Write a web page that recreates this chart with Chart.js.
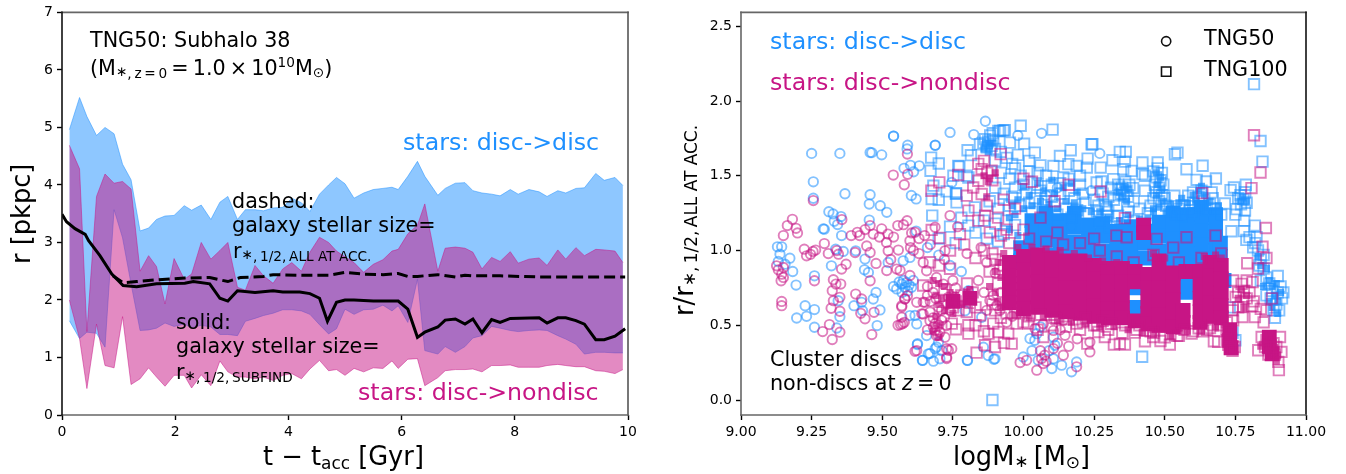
<!DOCTYPE html>
<html>
<head>
<meta charset="utf-8">
<script src="https://cdn.jsdelivr.net/npm/chart.js@4"></script>
<style>
    html, body { margin: 0; padding: 0; background: #fff; overflow: hidden; }
    canvas { position: absolute; top: 0; }
    #sizeChart { left: 0; }
    #scatterChart { left: 673px; }
</style>
</head>
<body>
<canvas id="sizeChart" width="673" height="474"></canvas>
<canvas id="scatterChart" width="673" height="474"></canvas>
<script>
// left panel
const bandT = [.13,.31,.44,.61,.76,.92,1.07,1.22,1.38,1.53,1.67,1.82,1.98,2.16,2.29,2.46,2.63,2.79,2.93,3.1,3.24,3.41,3.56,3.73,3.9,4.06,4.23,4.38,4.55,4.71,4.85,5.0,5.16,5.33,5.5,5.67,5.83,5.94,6.11,6.28,6.41,6.64,6.77,6.95,7.12,7.26,7.42,7.59,7.74,7.92,8.06,8.25,8.43,8.57,8.76,8.9,9.08,9.23,9.43,9.58,9.77,9.91];
const discUpper = [4.96,5.52,5.19,4.86,5.0,4.89,4.36,4.09,3.2,3.25,3.4,3.46,3.47,3.64,3.56,3.65,3.4,3.7,3.8,3.4,3.57,3.57,3.55,3.6,3.61,3.77,3.69,3.54,3.84,4.0,4.13,4.02,3.77,3.86,3.92,3.94,3.96,3.92,4.15,4.41,4.15,3.82,3.94,4.03,4.04,3.9,3.86,3.84,3.81,3.92,3.84,3.92,3.88,3.8,3.9,3.86,3.94,3.95,4.2,4.08,4.13,3.99];
const discLower = [1.64,1.33,1.44,1.42,1.18,3.57,3.08,2.28,1.47,1.48,1.51,1.6,1.54,1.58,1.52,1.56,1.53,1.4,1.4,1.38,1.63,1.68,1.73,1.77,1.83,1.83,1.81,1.75,1.57,1.41,1.5,1.84,1.75,1.83,1.84,1.91,1.81,1.9,1.61,2.36,1.12,1.06,1.19,1.09,1.19,1.34,1.38,1.54,1.51,1.47,1.45,1.47,1.48,1.47,1.38,1.32,1.23,1.06,1.09,1.09,1.08,1.08];
const nondiscUpper = [4.69,4.28,1.45,3.8,4.19,4.03,4.06,3.93,2.5,2.77,2.58,1.93,2.72,2.36,2.45,3.0,2.71,2.86,3.0,2.22,2.17,2.6,2.42,2.29,2.54,2.65,2.5,2.83,3.09,3.0,2.85,2.75,2.65,2.48,2.62,2.7,2.85,2.88,3.15,3.3,3.67,2.5,2.9,2.92,2.9,2.83,2.54,2.74,2.67,2.84,2.64,2.71,2.73,2.6,2.87,2.71,2.91,2.77,2.88,2.87,2.85,2.65];
const nondiscLower = [2.0,1.33,.46,1.58,.86,.82,1.71,.53,.63,.82,.66,.5,.69,.69,.47,.7,.51,.94,.75,.66,.66,.63,.66,.6,.69,.72,.63,.8,.95,.77,.79,.69,.81,.75,.82,.81,.94,.81,.97,.98,.51,.65,.77,.79,.79,.8,.75,.86,.86,.87,.83,.83,.83,.86,.88,.86,.84,.84,.77,.76,.72,.79];
const solidT = [0,.08,.23,.41,.47,.67,.88,1.08,1.32,1.67,2.17,2.32,2.61,2.79,2.93,3.1,3.41,3.73,3.9,4.2,4.38,4.55,4.69,4.85,5.0,5.16,5.5,5.94,6.11,6.28,6.41,6.64,6.77,6.95,7.12,7.26,7.42,7.59,7.74,7.92,8.43,8.57,8.76,8.9,9.08,9.23,9.43,9.58,9.77,9.95];
const solidR = [3.49,3.36,3.24,3.14,3.03,2.77,2.45,2.25,2.23,2.28,2.29,2.32,2.28,2.03,1.98,2.16,2.13,2.16,2.14,2.14,2.11,2.03,1.63,1.96,2.0,2.0,1.98,1.98,1.84,1.35,1.44,1.53,1.65,1.67,1.58,1.67,1.43,1.66,1.61,1.68,1.69,1.6,1.69,1.69,1.64,1.58,1.31,1.31,1.37,1.5];
const dashedT = [.9,1.08,1.32,1.67,2.17,2.61,2.93,3.15,3.56,3.73,4.23,4.73,5.0,5.33,5.67,5.94,6.11,6.28,6.64,6.95,7.12,7.26,7.74,8.43,9.95];
const dashedR = [2.42,2.3,2.32,2.35,2.38,2.39,2.32,2.39,2.41,2.44,2.43,2.43,2.48,2.45,2.44,2.46,2.41,2.41,2.44,2.4,2.43,2.42,2.42,2.4,2.4];
const sizeTicksX = [0,2,4,6,8,10];
const sizeTicksY = [0,1,2,3,4,5,6,7];

// right panel
const massTicks = [9,9.25,9.5,9.75,10,10.25,10.5,10.75,11];
const ratioTicks = [0,.5,1,1.5,2,2.5];
const legendCircle = [[10.505,2.4]];
const legendSquare = [[10.505,2.197]];

const disc50 = [[9.25,1.65],[9.35,1.65],[9.256,1.46],[9.256,1.35],[9.368,1.38],[9.457,1.656],[9.463,1.655],[9.498,1.64],[9.54,1.765],[9.59,1.705],[9.588,1.68],[9.688,1.705],[9.74,1.79],[9.824,1.776],[9.865,1.865],[9.577,1.55],[9.6,1.57],[9.611,1.527],[9.631,1.567],[9.603,1.369],[9.62,1.345],[9.457,1.374],[9.454,1.311],[9.493,1.3],[9.516,1.256],[9.311,1.26],[9.326,1.245],[9.354,1.227],[9.33,1.196],[9.342,1.174],[9.454,1.204],[9.291,1.145],[9.295,1.143],[9.356,1.1],[9.746,1.456],
[9.129,1.025],[9.144,1.025],[9.138,.976],[9.132,.927],[9.156,.909],[9.173,.949],[9.183,.86],[9.195,.769],[9.26,.831],[9.227,.631],[9.197,.549],[9.232,.56],[9.26,.487],[9.26,.605],[9.339,.482],[9.35,.558],[9.344,.665],[9.32,.898],[9.362,.994],[9.335,1.009],[9.4,.631],[9.427,.654],[9.43,.598],[9.468,.676],[9.478,.72],[9.492,.603],[9.482,.498],[9.437,.871],[9.451,.854],[9.406,.998],[9.439,.943],[9.521,.92],[9.574,.931],[9.598,.954],
[9.569,.776],[9.551,.743],[9.586,.787],[9.58,.754],[9.604,.754],[9.598,.565],[9.622,.509],[9.657,.431],[9.624,.371],[9.663,.309],[9.643,.265],[9.681,.26],[9.704,.276],[9.687,.343],[9.699,.387],[9.711,.33],[9.802,.265],[9.858,.354],[9.875,.298],[9.899,.276],[9.793,.598],[9.805,.731],[9.852,.554],[9.54,1.766],[9.687,1.704],[10.064,1.784],
[9.616,.566],[9.625,.377],[9.642,.266],[9.669,.311],[9.692,.355],[9.801,.266],[9.895,.273],[9.999,.288],[10.1,.211],[10.17,.189],[10.188,.255],[10.106,.277],[10.135,.233],[10.052,.266],[10.047,.444],[10.023,.411],[10.04,.4],[10.106,.42],[10.111,.366],[10.03,.33],[10.06,.49],[10.09,.33],
[9.98,1.77],[10.27,1.65],[10.24,1.4],[10.12,1.42],[10.08,1.37],[10.17,1.16],[9.62,1.13],[9.66,1.02],[9.7,.97],[9.74,.9],[9.78,.86],[9.56,.79],[9.575,.8],[9.595,.77],[9.61,.8],[9.54,.76],[9.59,.73],[9.57,.72]];

const nondisc50 = [[9.589,1.645],[9.539,1.505],[9.59,1.51],[9.578,1.44],[9.256,1.334],[9.74,1.234],[9.182,1.209],[9.164,1.167],[9.195,1.149],[9.2,1.118],[9.15,1.1],[9.357,1.207],[9.412,1.122],[9.439,1.14],[9.457,1.167],[9.468,1.11],[9.498,1.145],[9.52,1.11],[9.555,1.167],[9.575,1.173],[9.588,1.2],[9.604,1.118],[9.616,1.122],[9.687,1.156],[9.767,1.16],
[9.126,.898],[9.132,.871],[9.15,.887],[9.144,.842],[9.15,.82],[9.142,.798],[9.144,.66],[9.144,.631],[9.224,1.009],[9.232,.965],[9.255,.994],[9.264,1.003],[9.246,.975],[9.26,.798],[9.295,1.047],[9.309,.98],[9.327,.805],[9.336,.776],[9.323,.731],[9.353,.776],[9.35,.687],[9.327,.665],[9.319,.614],[9.35,.594],[9.313,.505],[9.289,.458],[9.35,.454],[9.323,.405],[9.356,.876],[9.372,.909],[9.345,.976],[9.339,1.0],[9.404,.987],[9.406,.709],[9.427,.676],[9.424,.58],[9.439,.543],[9.471,.587],[9.463,.438],[9.457,.798],[9.478,.914],[9.445,1.031],[9.457,.987],[9.521,.998],[9.557,1.003],[9.551,.876],[9.589,.698],[9.58,.676],[9.569,.631],[9.569,.554],[9.565,.505],[9.578,.52],[9.622,.654],[9.651,.654],[9.645,.576],[9.622,.331],[9.728,.343],[9.728,.287],[9.746,.343],[9.681,.487],[9.692,.431],[9.722,.42],[9.704,.454],[9.669,.531],[9.728,.498],[9.734,.687],[9.692,.82],[9.716,.776],[9.722,.998],[9.645,.92],[9.657,.865],[9.598,1.065],[9.515,1.054],
[9.516,.866],[9.563,.866],[9.598,.833],[9.58,.677],[9.569,.622],[9.572,.511],[9.556,.5],[9.616,.326],[9.734,.333],[9.728,.278],[9.687,.466],[9.988,.251],[10.011,.266],[10.047,.2],[10.064,.278],[10.07,.244],[10.106,.344],[10.141,.3],[10.188,.222],[10.235,.322],[10.235,.388],[10.147,.433],[10.106,.466],[10.041,.478],[10.141,.533],[9.893,.7],[9.881,.666],[9.905,.633],[9.917,.6],[9.87,.6],[9.669,.589],[9.645,.655],[9.64,.577],[9.71,.533],[9.687,.511],[9.698,.433],[10.075,.3],[10.06,.33],[10.08,.26],[10.12,.38],[10.16,.36],[10.19,.41],[10.13,.47],[10.07,.51],
[9.85,1.02],[9.87,.92],[9.9,.85],[9.84,.8],[9.86,.72],[9.92,.72],[9.94,.52],[9.96,.56],[9.8,.98],[9.76,.75],[9.68,.72],[9.7,.62],[9.74,.6],[9.66,.76],[9.72,.94],[9.75,.8],[9.67,1.04],[9.63,.98],[9.6,1.02],[9.53,.94],[9.39,1.1],[9.42,1.1],[9.49,1.09],[9.54,1.09],[9.63,1.08],[9.65,1.1],[9.61,1.0],[9.69,.68],[9.71,.6],[9.73,.64],[9.67,.66],[9.66,.7],[9.72,.55],[9.68,.55],[9.7,.5],[9.66,.47]];

const disc100 = [[9.673,1.622],[9.7,1.582],[9.671,1.534],[9.681,1.434],[9.675,1.345],[9.7,1.34],[9.728,1.396],[9.761,1.382],[9.763,1.322],[9.677,1.234],[9.773,1.562],[9.805,1.489],[9.802,1.671],[9.814,1.638],[9.864,1.745],[9.891,1.785],[9.917,1.8],[9.934,1.805],[9.752,1.5],[9.828,1.289],[9.805,1.167],
[9.99,1.835],[10.103,1.809],[9.929,1.804],[9.911,1.8],[10.241,1.711],[10.167,1.671],[10.129,1.633],[10.227,1.615],[10.04,1.655],[9.952,1.722],[10.002,1.715],[9.769,1.566],[9.799,1.5],[9.761,1.382],[10.106,1.566],[10.159,1.578],[10.188,1.566],[10.224,1.555],[10.141,1.489],
[9.858,1.72],[9.875,1.73],[9.893,1.74],[9.87,1.69],[9.887,1.7],[9.899,1.68],[9.846,1.71],[9.882,1.77],[9.9,1.6],[9.92,1.66],[9.94,1.62],[9.96,1.58],[9.98,1.64],[10.02,1.6],[10.06,1.57],[9.92,1.52],[9.95,1.48],[9.99,1.5],[10.02,1.53],[10.08,1.5],[10.1,1.44],[10.16,1.48],[10.2,1.44],[10.05,1.44],[9.9,1.42],[9.93,1.38],[9.97,1.42],[10.01,1.38],[10.04,1.35],[10.08,1.33],[10.13,1.38],[10.18,1.35],[10.22,1.32],[9.88,1.33],[9.91,1.28],[9.95,1.3],[9.99,1.3],[10.03,1.26],[10.07,1.27],[10.11,1.3],[10.15,1.28],[10.19,1.27],[10.23,1.25],
[9.86,1.2],[9.9,1.18],[9.94,1.2],[9.97,1.17],[9.83,1.12],[9.87,1.08],[9.91,1.06],[9.78,1.22],[9.74,1.16],[9.7,1.08],[9.93,1.11],[9.76,1.05],[9.96,1.36],[10.0,1.44],[10.06,1.4],[10.1,1.36],[10.16,1.4],[10.21,1.38],[10.02,1.32],[10.12,1.24],[10.17,1.22],[10.25,1.34],[10.28,1.38],[10.31,1.42],[10.29,1.3],[10.33,1.3],[10.3,1.26],[10.26,1.26],[9.97,1.55],[10.05,1.52],[10.13,1.45],[10.2,1.5],
[10.244,1.711],[10.273,1.555],[10.315,1.604],[10.341,1.66],[10.362,1.66],[10.359,1.595],[10.382,1.533],[10.421,1.589],[10.421,1.511],[10.475,1.589],[10.536,1.644],[10.545,1.655],[10.577,1.544],[10.634,1.567],[10.613,1.473],[10.646,1.462],[10.681,1.482],[10.666,1.389],[10.6,1.389],[10.583,1.367],[10.534,1.367],[10.745,1.422],[10.733,1.404],[10.787,1.44],[10.839,1.733],[10.846,1.595],[10.713,1.315],[10.754,1.277],[10.784,1.267],[10.781,1.2],[10.819,1.167],[10.736,1.129],[10.789,1.071],[10.825,1.089],[10.813,1.022],
[10.259,1.455],[10.276,1.462],[10.318,1.478],[10.353,1.544],[10.388,1.418],[10.43,1.4],[10.43,1.5],[10.265,1.3],[10.294,1.278],[10.294,1.233],[10.335,1.233],[10.306,1.155],[10.816,2.113],[9.89,0],[10.42,.29],
[10.335,1.44],[10.35,1.42],[10.365,1.4],[10.345,1.38],[10.36,1.46],[10.375,1.44],[10.34,1.41],[10.355,1.37],[10.37,1.36],[10.46,1.53],[10.475,1.55],[10.49,1.52],[10.47,1.49],[10.485,1.47],[10.465,1.44],[10.48,1.42],[10.495,1.44],[10.47,1.39],[10.49,1.37],[10.48,1.33],[10.5,1.35],[10.46,1.35],[10.505,1.3],[10.45,1.3],
[10.3,1.36],[10.32,1.34],[10.39,1.33],[10.41,1.28],[10.44,1.25],[10.27,1.2],[10.37,1.26],[10.39,1.2],[10.33,1.18],[10.52,1.26],[10.55,1.28],[10.57,1.3],[10.6,1.32],[10.62,1.36],[10.64,1.34],[10.66,1.31],[10.68,1.28],[10.62,1.29],[10.6,1.25],[10.65,1.27],[10.7,1.24],[10.63,1.4],[10.59,1.27],[10.54,1.24],[10.56,1.23],[10.67,1.35],
[10.768,1.37],[10.778,1.344],[10.79,1.32],[10.77,1.31],[10.785,1.39],[10.76,1.35],[10.75,1.24],[10.78,1.13],[10.8,1.09],[10.83,1.0],[10.84,.94],[10.85,.88],[10.86,.82],[10.87,.78],[10.88,.73],[10.9,.72],[10.915,.68],[10.895,.64],[10.91,.76],[10.875,.68],[10.885,.6],[10.89,.55],[10.905,.6],[10.86,.7],[10.84,.8],[10.85,.97],[10.82,1.05],[10.835,.9],[10.9,.83],[10.92,.72],[10.74,.45],[10.75,.4],[10.73,.62]];

const nondisc100 = [[9.702,1.456],[9.674,1.4],[9.769,1.505],[9.84,1.467],[9.822,1.422],[9.852,1.378],[9.805,1.267],[9.864,1.234],[9.799,1.367],[9.881,1.122],[9.775,1.11],[9.675,1.138],[9.705,1.085],[9.852,1.545],[9.887,1.534],[9.919,1.645],[9.84,1.58],[9.86,1.6],[9.872,1.52],[9.89,1.47],
[10.816,1.771],[10.839,1.522],[10.807,1.418],[10.858,1.151],[10.846,1.026],[10.633,1.384],[10.273,1.395],[10.359,1.217],[10.329,1.1],[10.577,1.089],[10.471,1.078],[10.365,1.089],[10.0,1.48],[10.03,1.46],[10.11,1.33],[10.16,1.44],[10.06,1.22],[9.97,1.28],[9.93,1.34],
[10.792,.915],[10.742,.8],[10.772,.777],[10.811,.789],[10.751,.689],[10.778,.622],[10.819,.555],[10.775,.555],[10.742,.533],[10.518,.371],[10.43,.393],[10.485,.395],[10.359,.371],[10.341,.377],[10.32,.371],[10.394,.451],[10.459,.422],[10.544,.429],[10.595,.444],[10.636,.46],[10.66,.482],[10.674,.393],[10.689,.389],[10.719,.466],[10.288,.422],[10.265,.455],[10.78,.73],[10.79,.68],[10.81,.63],[10.76,.62],[10.8,.72],
[10.843,.422],[10.908,.422],[10.831,.333],[10.913,.322],[10.904,.2],[10.902,.255],[10.885,.38],[10.86,.4],[10.878,.335],[10.895,.355],[10.855,.355],[10.867,.305],[10.89,.305],[10.731,.344],[10.748,.355],[10.72,.4],[10.725,.37],[10.74,.33],[10.815,.66],[10.84,.61],[10.86,.6],[10.85,.52],[10.83,.88],[10.86,.95],[10.88,.68],
[9.834,.317],[9.899,.355],[9.864,.367],[9.958,.377],[9.931,.382],[9.805,.444],[9.761,.473],[9.746,.511],[9.876,.444],[9.911,.455],[9.946,.444],[10.07,.422],[10.226,.377],[10.188,.511],[9.799,.589],[9.805,.5],[9.645,.766],[9.74,.878],[9.669,.922],[9.846,.567],[9.893,.511],[9.976,.511],[10.017,.511],[10.117,.544],
[9.78,.7],[9.8,.78],[9.82,.72],[9.81,.65],[9.83,.62],[9.76,.66],[9.75,.62],[9.77,.6],[9.72,.74],[9.7,.9],[9.74,1.0],[9.79,1.04],[9.83,.95],[9.86,1.0],[9.88,.86],[9.9,.94],[9.92,1.1],[9.95,1.05],[9.93,.9],[10.0,.52],[10.05,.47],[10.1,.5],[10.15,.49],[10.2,.47],[10.25,.5],[10.3,.47],[10.35,.45],[10.4,.47],[10.45,.46],[10.5,.42],[10.55,.43],[10.6,.46],[10.65,.47],[10.7,.5],[10.22,.55],[10.28,.53],
[10.02,1.08],[10.08,1.06],[10.14,1.04],[10.2,1.05],[10.27,1.0],[10.33,.96],[10.39,.92],[10.46,.97],[10.55,.92],[10.63,.95],[10.7,.98],[10.0,1.14],[10.12,1.12],[10.25,1.08],[10.53,1.02],[10.68,1.1],
[9.9,.6],[9.92,.55],[9.89,.64],[9.91,.78],[9.89,.98],[9.94,.58],[9.97,.58],[10.02,.56],[10.06,.57],[10.11,.55],[10.16,.54],[10.21,.52],[10.26,.5],[10.31,.51],[10.36,.5],[10.41,.5],[10.46,.45],[10.52,.44],[10.57,.47],[10.62,.48],[10.67,.5],[10.72,.52],[9.84,1.2],[9.87,1.3],[9.91,1.22],[9.94,1.14],[10.76,.72],[10.79,.8],[10.74,.6],[9.83,.5],[9.86,.46]];

// dense parts of the clouds, where the open markers merge into a solid mass
const discCore = [[9.99,1.02],[9.99,.93],[10.03,1.2],[10.03,1.12],[10.03,1.03],[10.03,.94],[10.08,1.25],[10.08,1.16],[10.08,1.07],[10.08,.97],[10.13,1.2],[10.13,1.12],[10.13,1.03],[10.13,.94],[10.18,1.25],[10.18,1.16],[10.18,1.06],[10.18,.96],[10.23,1.17],[10.23,1.08],[10.23,.99],[10.23,.9],[10.28,1.18],[10.28,1.1],[10.28,1.0],[10.28,.92],[10.33,1.13],[10.33,1.05],[10.33,.96],[10.38,1.16],[10.38,1.08],[10.38,.98],[10.38,.9],[10.43,1.13],[10.43,1.05],[10.43,.95],[10.48,1.19],[10.48,1.1],[10.48,1.0],[10.48,.92],[10.53,1.25],[10.53,1.17],[10.53,1.08],[10.53,.99],[10.53,.9],[10.58,1.24],[10.58,1.16],[10.58,1.07],[10.58,.98],[10.58,.9],[10.63,1.29],[10.63,1.22],[10.63,1.13],[10.63,1.04],[10.63,.95],[10.63,.87],[10.68,1.24],[10.68,1.18],[10.68,1.09],[10.68,1.0],[10.68,.92],[10.697,1.05],[10.697,.96],[10.58,.8],[10.575,.72],[10.39,.75],[10.39,.62],[10.71,.8]];
const nondiscCore = [[9.95,.92],[9.95,.83],[9.95,.74],[9.95,.65],[10.0,.96],[10.0,.87],[10.0,.78],[10.0,.69],[10.0,.61],[10.05,.97],[10.05,.88],[10.05,.79],[10.05,.7],[10.05,.62],[10.1,.95],[10.1,.86],[10.1,.77],[10.1,.68],[10.1,.6],[10.15,.93],[10.15,.84],[10.15,.75],[10.15,.66],[10.15,.59],[10.2,.93],[10.2,.84],[10.2,.75],[10.2,.66],[10.2,.58],[10.25,.9],[10.25,.81],[10.25,.72],[10.25,.63],[10.25,.56],[10.3,.88],[10.3,.79],[10.3,.7],[10.3,.61],[10.3,.55],[10.35,.88],[10.35,.79],[10.35,.7],[10.35,.61],[10.35,.55],[10.395,.86],[10.395,.79],[10.395,.53],[10.44,.84],[10.44,.75],[10.44,.66],[10.44,.58],[10.44,.51],[10.48,.93],[10.48,.84],[10.48,.75],[10.48,.66],[10.48,.57],[10.48,.5],[10.53,.85],[10.53,.76],[10.53,.67],[10.53,.58],[10.53,.49],[10.575,.86],[10.565,.6],[10.565,.52],[10.625,.86],[10.625,.77],[10.625,.68],[10.625,.59],[10.625,.52],[10.66,.92],[10.66,.83],[10.66,.74],[10.66,.65],[10.66,.56],[10.7,.9],[10.7,.81],[10.7,.72],[10.7,.63],[10.7,.55],[10.73,.47],[10.73,.4],[10.735,.35],[10.87,.42],[10.87,.36],[10.88,.31],[10.425,1.17],[10.425,1.12],[9.75,.66],[9.81,.68]];

// thick but not solid patches, drawn with smaller filled squares
const discClump = [[9.865,1.72],[9.88,1.7],[9.86,1.68],[9.875,1.66],[9.89,1.72],[10.355,1.43],[10.34,1.39],[10.37,1.41],[10.35,1.36],[10.365,1.33],[10.47,1.52],[10.485,1.49],[10.475,1.44],[10.49,1.41],[10.47,1.37],[10.495,1.33],[10.48,1.29],[10.505,1.26],[10.46,1.26],[10.775,1.36],[10.79,1.33],[10.77,1.33],
[9.97,1.24],[10.0,1.28],[10.03,1.3],[10.06,1.33],[10.09,1.31],[10.12,1.28],[10.15,1.33],[10.18,1.32],[10.21,1.28],[10.24,1.26],[9.98,1.34],[10.02,1.37],[10.07,1.4],[10.11,1.38],[10.14,1.42],[10.19,1.39],[10.05,1.45],[10.0,1.43],[10.1,1.47],[10.17,1.45],[9.95,1.14],[9.98,1.1],[10.27,1.26],[10.3,1.22],[10.34,1.2],[10.37,1.24],[10.41,1.21],[10.44,1.22],[10.46,1.28],[9.96,1.3],[9.95,1.22],
[10.52,1.31],[10.55,1.32],[10.58,1.32],[10.61,1.33],[10.64,1.37],[10.62,1.4],[10.6,1.37],[10.56,1.35],[10.66,1.33],[10.69,1.3],[10.63,1.43],
[10.86,.88],[10.87,.8],[10.88,.76],[10.89,.7],[10.9,.66],[10.91,.72],[10.87,.66],[10.88,.62],[10.9,.58],[10.85,.76],[10.84,.9],[10.83,.96],[10.895,.78]];
const nondiscClump = [[9.69,.7],[9.7,.64],[9.71,.68],[9.69,.56],[9.7,.5],[9.68,.46],[9.7,.42],[9.72,.76],[9.74,.72],[9.72,.6],[9.7,.78],[9.68,.8],[9.75,.58],[9.78,.64],[9.8,.72],[9.81,.74],[9.82,.66],[9.74,.66],[9.76,.7],
[9.88,.76],[9.9,.72],[9.91,.66],[9.9,.86],[9.92,.82],[9.91,.92],[9.93,.98],[9.92,.62],[9.88,1.48],[9.86,1.5],[9.875,1.46],[9.9,1.52],[9.87,1.36],
[9.97,.57],[10.02,.55],[10.07,.55],[10.12,.53],[10.17,.52],[10.22,.51],[10.27,.49],[10.32,.49],[10.37,.47],[10.42,.45],[10.46,.44],[10.52,.43],[10.55,.46],[10.58,.46],[10.63,.46],[10.68,.49],
[9.98,1.02],[10.03,1.02],[10.08,1.01],[10.13,1.0],[10.18,.98],[10.23,.95],[10.28,.93],[10.33,.92],[10.46,.98],[10.5,.95],[10.64,.96],[10.68,.97],[10.7,.95],
[10.77,.74],[10.79,.7],[10.76,.68],[10.78,.62],[10.86,.38],[10.88,.4],[10.84,.36],[10.89,.35],[10.86,.33],[10.9,.3],[10.895,.26],[10.74,.41],[10.745,.37]];

const fontName = '"DejaVu Sans"';
const discColor = '#1E90FF';
const nondiscColor = '#C71585';
const discFill = 'rgba(30,144,255,0.5)';
const nondiscFill = 'rgba(199,21,133,0.5)';
const discStroke = 'rgba(30,144,255,0.55)';
const nondiscStroke = 'rgba(199,21,133,0.55)';

function toPoints(xs, ys) {
    return xs.map((x, i) => ({ x: x, y: ys[i] }));
}

function pairsToPoints(list) {
    return list.map((p) => ({ x: p[0], y: p[1] }));
}

// text made of runs, so sub and superscripts can shrink: [text, scale, raise, italic]
function drawRuns(ctx, runs, x, y, size, color, rotated) {
    ctx.save();
    ctx.translate(x, y);
    if (rotated) ctx.rotate(-Math.PI / 2);
    ctx.fillStyle = color;
    ctx.textBaseline = 'alphabetic';
    ctx.textAlign = 'left';
    let pos = 0;
    runs.forEach((run) => {
        const scale = run[1] || 1;
        ctx.font = `${run[3] ? 'italic ' : ''}${size * scale}px ${fontName}`;
        ctx.fillText(run[0], pos, -(run[2] || 0) * size);
        pos += ctx.measureText(run[0]).width;
    });
    ctx.restore();
}

const textPlugin = {
    id: 'panelText',
    afterDraw(chart, args, opts) {
        const ctx = chart.ctx;
        const a = chart.chartArea;
        // spines, matplotlib style frame
        const sides = [
            [a.left, a.top, a.right, a.top, opts.spines[0]],
            [a.right, a.top, a.right, a.bottom, opts.spines[1]],
            [a.left, a.bottom, a.right, a.bottom, opts.spines[2]],
            [a.left, a.top, a.left, a.bottom, opts.spines[3]],
        ];
        ctx.save();
        ctx.lineWidth = 1.6;
        ctx.lineCap = 'square';
        sides.forEach((s) => {
            ctx.strokeStyle = s[4];
            ctx.beginPath();
            ctx.moveTo(s[0], s[1]);
            ctx.lineTo(s[2], s[3]);
            ctx.stroke();
        });
        ctx.restore();
        opts.items.forEach((t) => drawRuns(ctx, t.runs, t.x, t.y, t.size, t.color || '#000', t.rotated));
    },
};

function baseAxis(min, max, tickList, format, extra) {
    return Object.assign({
        type: 'linear',
        min: min,
        max: max,
        border: { display: false },
        grid: { drawOnChartArea: false, drawTicks: true, tickLength: 5, tickWidth: 1.4, tickColor: '#000' },
        ticks: {
            color: '#000',
            autoSkip: false,
            maxRotation: 0,
            padding: 4,
            font: { family: fontName, size: 14 },
            callback: format,
        },
        afterBuildTicks: (axis) => {
            axis.ticks = tickList.map((v) => ({ value: v }));
        },
    }, extra);
}

const sub = 0.66;
const star = ['∗', sub, -0.06];
const textSize = 20.7;
const starsSize = 23.7;
const labelSize = 25.7;

new Chart(document.getElementById('sizeChart').getContext('2d'), {
    type: 'line',
    plugins: [textPlugin],
    data: {
        datasets: [
            { data: toPoints(solidT, solidR), borderColor: '#000', borderWidth: 3, pointRadius: 0, tension: 0, fill: false },
            { data: toPoints(dashedT, dashedR), borderColor: '#000', borderWidth: 3, borderDash: [11, 5], pointRadius: 0, tension: 0, fill: false },
            { data: toPoints(bandT, nondiscUpper), borderColor: nondiscFill, borderWidth: 1, pointRadius: 0, tension: 0, backgroundColor: nondiscFill, fill: 3 },
            { data: toPoints(bandT, nondiscLower), borderColor: nondiscFill, borderWidth: 1, pointRadius: 0, tension: 0, fill: false },
            { data: toPoints(bandT, discUpper), borderColor: discFill, borderWidth: 1, pointRadius: 0, tension: 0, backgroundColor: discFill, fill: 5 },
            { data: toPoints(bandT, discLower), borderColor: discFill, borderWidth: 1, pointRadius: 0, tension: 0, fill: false },
        ],
    },
    options: {
        responsive: false,
        animation: false,
        layout: { padding: { top: 11, right: 45, left: 0, bottom: 0 } },
        scales: {
            x: baseAxis(0, 10, sizeTicksX, (v) => String(v), { afterFit: (s) => { s.height = 59; } }),
            y: baseAxis(0, 7, sizeTicksY, (v) => String(v), { afterFit: (s) => { s.width = 62; } }),
        },
        plugins: {
            legend: { display: false },
            tooltip: { enabled: false },
            panelText: {
                spines: ['#666', '#555', '#666', '#111'],
                items: [
                    { runs: [['TNG50: Subhalo 38']], x: 90, y: 47, size: textSize },
                    { runs: [['(M'], star, [',\u2009z\u2009=\u20090', sub, -0.15], ['\u2009=\u20091.0\u2009×\u200910'], ['10', sub, 0.4], ['M'], ['⊙', sub, -0.12], [')']], x: 90, y: 75, size: textSize },
                    { runs: [['dashed:']], x: 232, y: 208, size: textSize },
                    { runs: [['galaxy stellar size=']], x: 232, y: 232, size: textSize },
                    { runs: [['r'], star, [',\u20091/2,\u2009ALL AT ACC.', sub, -0.15]], x: 233, y: 258, size: textSize },
                    { runs: [['solid:']], x: 176, y: 329, size: textSize },
                    { runs: [['galaxy stellar size=']], x: 176, y: 353, size: textSize },
                    { runs: [['r'], star, [',\u20091/2,\u2009SUBFIND', sub, -0.15]], x: 176, y: 379, size: textSize },
                    { runs: [['stars: disc->disc']], x: 403, y: 150, size: starsSize, color: discColor },
                    { runs: [['stars: disc->nondisc']], x: 358, y: 400, size: starsSize, color: nondiscColor },
                    { runs: [['r [pkpc]']], x: 30, y: 264, size: labelSize, rotated: true },
                    { runs: [['t − t'], ['acc', sub, -0.15], [' [Gyr]']], x: 263, y: 465, size: labelSize },
                ],
            },
        },
    },
});

new Chart(document.getElementById('scatterChart').getContext('2d'), {
    type: 'scatter',
    plugins: [textPlugin],
    data: {
        datasets: [
            { data: pairsToPoints(legendCircle), pointStyle: 'circle', pointRadius: 4.6, pointBorderWidth: 1.6, pointBorderColor: '#111', pointBackgroundColor: 'transparent' },
            { data: pairsToPoints(legendSquare), pointStyle: 'rect', pointRadius: 6.6, pointBorderWidth: 1.6, pointBorderColor: '#111', pointBackgroundColor: 'transparent' },
            { data: pairsToPoints(nondisc100), pointStyle: 'rect', pointRadius: 7.4, pointBorderWidth: 1.9, pointBorderColor: nondiscStroke, pointBackgroundColor: 'transparent' },
            { data: pairsToPoints(nondisc50), pointStyle: 'circle', pointRadius: 4.7, pointBorderWidth: 1.9, pointBorderColor: nondiscStroke, pointBackgroundColor: 'transparent' },
            { data: pairsToPoints(nondiscClump), pointStyle: 'rect', pointRadius: 5, pointBorderWidth: 0, pointBackgroundColor: 'rgba(199,21,133,0.7)' },
            { data: pairsToPoints(nondiscCore), pointStyle: 'rect', pointRadius: 10.5, pointBorderWidth: 0, pointBackgroundColor: nondiscColor },
            { data: pairsToPoints(disc100), pointStyle: 'rect', pointRadius: 7.4, pointBorderWidth: 1.9, pointBorderColor: discStroke, pointBackgroundColor: 'transparent' },
            { data: pairsToPoints(disc50), pointStyle: 'circle', pointRadius: 4.7, pointBorderWidth: 1.9, pointBorderColor: discStroke, pointBackgroundColor: 'transparent' },
            { data: pairsToPoints(discClump), pointStyle: 'rect', pointRadius: 5, pointBorderWidth: 0, pointBackgroundColor: 'rgba(30,144,255,0.75)' },
            { data: pairsToPoints(discCore), pointStyle: 'rect', pointRadius: 10.5, pointBorderWidth: 0, pointBackgroundColor: discColor },
        ],
    },
    options: {
        responsive: false,
        animation: false,
        layout: { padding: { top: 11, right: 40, left: 0, bottom: 0 } },
        scales: {
            x: baseAxis(9, 11, massTicks, (v) => v.toFixed(2), { afterFit: (s) => { s.height = 59; } }),
            y: baseAxis(-0.1, 2.593, ratioTicks, (v) => v.toFixed(1), { afterFit: (s) => { s.width = 68; } }),
        },
        plugins: {
            legend: { display: false },
            tooltip: { enabled: false },
            panelText: {
                spines: ['#666', '#111', '#666', '#666'],
                items: [
                    { runs: [['stars: disc->disc']], x: 97, y: 49, size: starsSize, color: discColor },
                    { runs: [['stars: disc->nondisc']], x: 97, y: 90, size: starsSize, color: nondiscColor },
                    { runs: [['TNG50']], x: 531, y: 45, size: textSize },
                    { runs: [['TNG100']], x: 531, y: 76, size: textSize },
                    { runs: [['Cluster discs']], x: 97, y: 366, size: textSize },
                    { runs: [['non-discs at '], ['z', 1, 0, true], ['\u2009=\u20090']], x: 97, y: 390, size: textSize },
                    { runs: [['r/r'], star, [',\u20091/2,\u2009ALL AT ACC.', sub, -0.15]], x: 20, y: 316, size: labelSize, rotated: true },
                    { runs: [['logM'], star, ['\u2009[M'], ['⊙', sub, -0.12], [']']], x: 280, y: 465, size: labelSize },
                ],
            },
        },
    },
});
</script>
</body>
</html>
